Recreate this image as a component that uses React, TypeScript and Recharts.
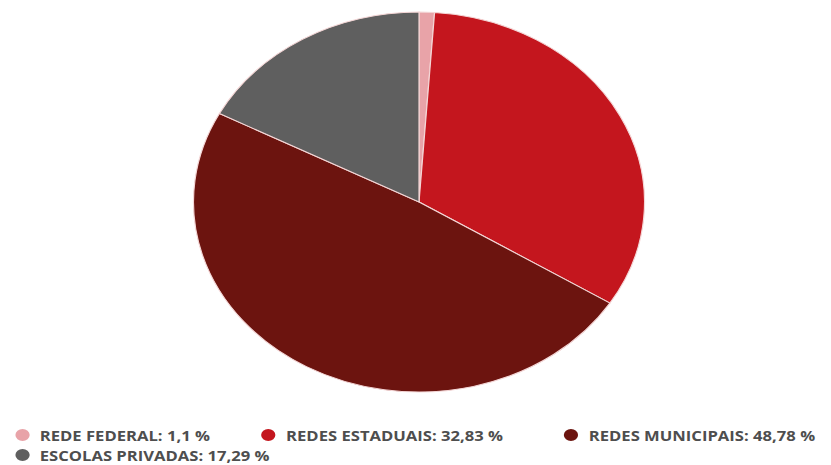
import { PieChart, Pie, Cell } from 'recharts';

const names = ['REDE FEDERAL', 'REDES ESTADUAIS', 'REDES MUNICIPAIS', 'ESCOLAS PRIVADAS'];
const values = [1.1, 32.83, 48.78, 17.29];
const labels = ['1,1 %', '32,83 %', '48,78 %', '17,29 %'];
const colors = ['#e8a3a8', '#c4161e', '#6c140f', '#5f5f5f'];

const data = names.map((name, i) => ({ name, value: values[i] }));

// the whole picture is stretched horizontally
const SX = 1.187;
// legend slots (unscaled): [left, centerY]
const legendPos = [[12.5, 435], [220, 435], [475, 435], [12.5, 455]];

const App = () => {
    return (
        <div style={{ position: 'absolute', left: 0, top: 0, width: 831, height: 465, background: '#fff', overflow: 'hidden' }}>
            <div style={{ position: 'absolute', left: 0, top: 0, width: 700, height: 465, transform: `scaleX(${SX})`, transformOrigin: '0 0' }}>
                <div style={{ position: 'absolute', left: 353.4 - 200, top: 2, width: 400, height: 400 }}>
                    <PieChart width={400} height={400} margin={{ top: 0, right: 0, bottom: 0, left: 0 }}>
                        <Pie data={data} dataKey="value" cx={200} cy={200} outerRadius={190}
                            startAngle={90} endAngle={-270} stroke="#f4d6d6" strokeWidth={1}
                            isAnimationActive={false}>
                            {data.map((d, i) => <Cell key={d.name} fill={colors[i]} />)}
                        </Pie>
                    </PieChart>
                </div>
                {names.map((n, i) => (
                    <div key={n} style={{ position: 'absolute', left: legendPos[i][0], top: legendPos[i][1] - 10, height: 20, display: 'flex', alignItems: 'center',
                        fontFamily: '"Open Sans", sans-serif', fontWeight: 700, fontSize: 14, color: '#4e4e4e', whiteSpace: 'nowrap' }}>
                        <span style={{ display: 'inline-block', width: 12, height: 12, borderRadius: 6, background: colors[i], marginRight: 9 }} />
                        {n}: {labels[i]}
                    </div>
                ))}
            </div>
        </div>
    );
};

export default App;
